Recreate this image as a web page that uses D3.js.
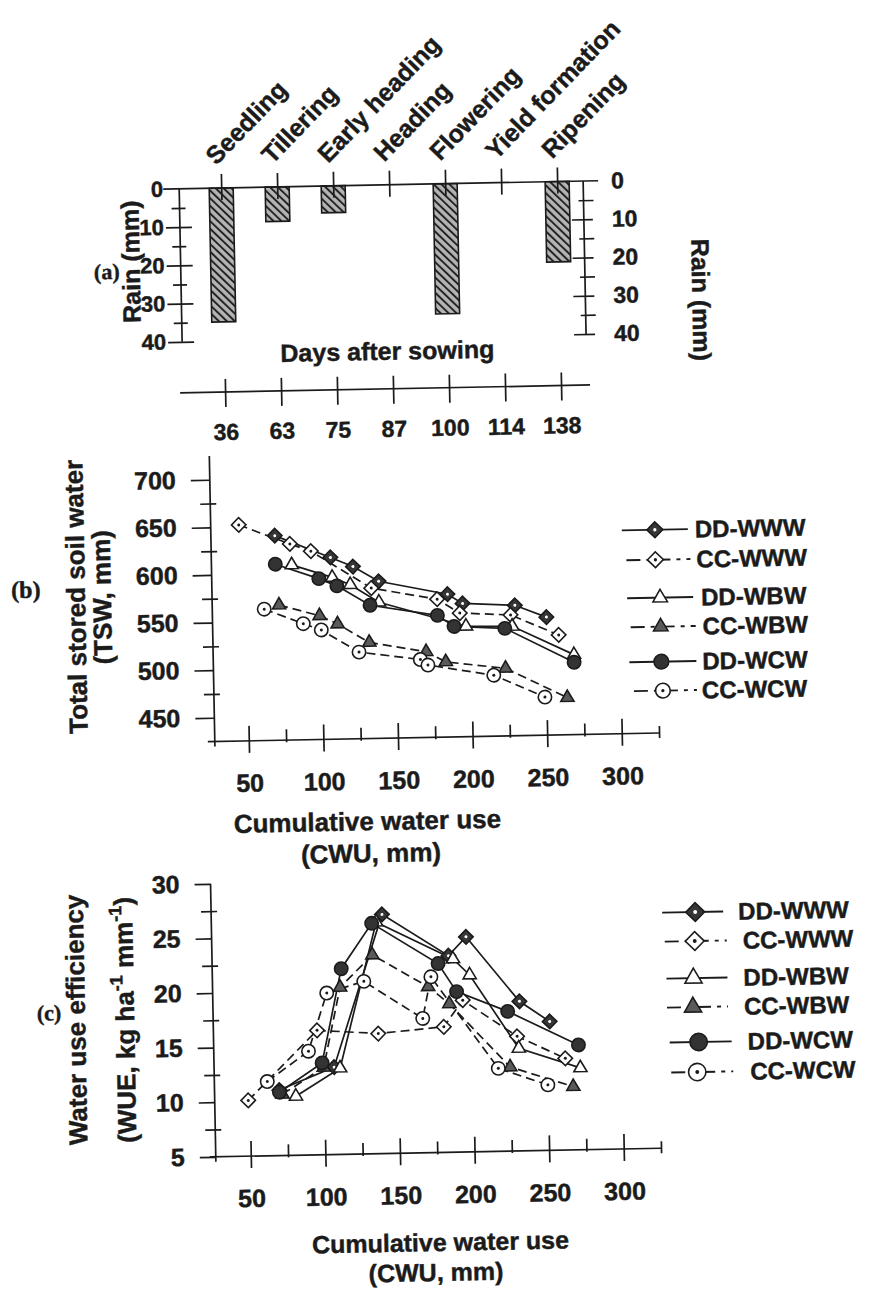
<!DOCTYPE html>
<meta charset="utf-8">
<style>
body { margin: 0; background: #fff; }
svg text { font-family: "Liberation Sans", Arial, sans-serif; font-weight: bold; fill: #1b1b1b; stroke: #1b1b1b; stroke-width: 0.45px; }
svg text.tag { font-family: "Liberation Serif", "Times New Roman", serif; }
</style>
<svg width="869" height="1289"></svg>
<script src="https://cdn.jsdelivr.net/npm/d3@7"></script>
<script>
// (a) rain by growth stage
var stages = ["Seedling", "Tillering", "Early heading", "Heading", "Flowering", "Yield formation", "Ripening"];
var days = [36, 63, 75, 87, 100, 114, 138];
var rain = [35, 9, 7, 0, 34, 0, 21];

var names = ["DD-WWW", "CC-WWW", "DD-WBW", "CC-WBW", "DD-WCW", "CC-WCW"];

// (b) total stored soil water vs cumulative water use, [CWU, TSW]
var tswDDWWW = [[70, 640], [107, 616], [122, 606], [139, 590], [185, 575], [195, 565], [230, 562], [251, 549]];
var tswCCWWW = [[46, 652], [80, 631], [94, 623], [134, 583], [178, 570], [193, 555], [227, 552], [259, 530]];
var tswDDWBW = [[81, 609], [108, 595], [120, 587], [139, 568], [197, 541], [228, 540], [269, 509]];
var tswCCWBW = [[72, 567], [99, 555], [111, 546], [132, 526], [170, 515], [183, 504], [223, 496], [264, 464]];
var tswDDWCW = [[70, 610], [99, 594], [111, 586], [133, 565], [178, 553], [189, 541], [223, 538], [269, 501]];
var tswCCWCW = [[62, 563], [88, 547], [100, 540], [125, 516], [166, 507], [171, 501], [215, 489], [249, 465]];

// (c) water use efficiency vs cumulative water use, [CWU, WUE]
var wueDDWWW = [[70, 11.0], [107, 13.0], [141, 26.9], [185, 23.0], [197, 24.7], [232, 18.7], [252, 16.8]];
var wueCCWWW = [[49, 10.1], [96, 16.4], [137, 16.0], [181, 16.5], [194, 18.9], [230, 15.5], [262, 13.4]];
var wueDDWBW = [[81, 10.4], [111, 12.9], [137, 26.2], [188, 22.7], [199, 21.2], [231, 14.4], [272, 12.5]];
var wueCCWBW = [[72, 10.6], [100, 13.0], [112, 20.3], [134, 23.2], [171, 20.2], [185, 18.6], [225, 12.7], [267, 10.8]];
var wueDDWCW = [[70, 10.8], [99, 13.4], [113, 22.0], [134, 26.1], [178, 22.3], [190, 19.7], [224, 17.8], [271, 14.6]];
var wueCCWCW = [[62, 11.8], [90, 14.5], [103, 19.8], [128, 20.8], [167, 17.3], [173, 21.1], [217, 12.6], [250, 11.0]];

var ink = "#1b1b1b";
var svg = d3.select("svg");

var defs = svg.append("defs");
var pat = defs.append("pattern")
    .attr("id", "hatch")
    .attr("patternUnits", "userSpaceOnUse")
    .attr("width", 5.5).attr("height", 5.5)
    .attr("patternTransform", "rotate(-45)");
pat.append("rect").attr("width", 5.5).attr("height", 5.5).attr("fill", "#b4b4b4");
pat.append("line").attr("x1", 1).attr("x2", 1).attr("y1", 0).attr("y2", 5.5)
    .attr("stroke", "#1e1e1e").attr("stroke-width", 1.9);

// the scanned figure sits slightly tilted
var root = svg.append("g").attr("transform", "rotate(-1.1,434,645)");

function hline(g, x1, x2, y) {
  g.append("line").attr("x1", x1).attr("x2", x2).attr("y1", y).attr("y2", y)
      .attr("stroke", ink).attr("stroke-width", 1.7);
}
function vline(g, x, y1, y2) {
  g.append("line").attr("x1", x).attr("x2", x).attr("y1", y1).attr("y2", y2)
      .attr("stroke", ink).attr("stroke-width", 1.7);
}
function styleAxis(g, size) {
  g.attr("font-size", size).attr("color", ink).attr("font-family", null);
  g.selectAll("line").attr("stroke-width", 1.7);
  g.select(".domain").remove();
}
function rotText(g, x, y, angle, str, size) {
  return g.append("text")
      .attr("transform", "translate(" + x + "," + y + ") rotate(" + angle + ")")
      .attr("text-anchor", "middle")
      .attr("font-size", size)
      .text(str);
}

// ---------- (a) ----------
var pa = root.append("g");
var xStage = d3.scalePoint().domain(stages).range([230, 566]);
var xDay = d3.scalePoint().domain(days).range([230, 566]);
var yRain = d3.scaleLinear().domain([0, 40]).range([184, 337]);

pa.selectAll("rect.bar")
    .data(stages.map(function(s, i) { return {stage: s, v: rain[i]}; }).filter(function(d) { return d.v > 0; }))
  .enter().append("rect")
    .attr("class", "bar")
    .attr("x", function(d) { return xStage(d.stage) - 12; })
    .attr("width", 24)
    .attr("y", yRain(0))
    .attr("height", function(d) { return yRain(d.v) - yRain(0); })
    .attr("fill", "url(#hatch)")
    .attr("stroke", ink)
    .attr("stroke-width", 1.6);

hline(pa, 172, 607, yRain(0));

var axTop = pa.append("g").attr("transform", "translate(0," + yRain(0) + ")")
    .call(d3.axisTop(xStage).tickSize(0));
styleAxis(axTop, 25);
axTop.selectAll(".tick line").attr("y1", 12).attr("y2", -14);
axTop.selectAll(".tick text")
    .attr("x", 0).attr("y", 0).attr("dy", 0)
    .attr("text-anchor", "start")
    .attr("transform", "translate(-5,-22) rotate(-45)");

var axL = pa.append("g").attr("transform", "translate(188,0)")
    .call(d3.axisLeft(yRain).tickValues(d3.range(0, 41, 5))
      .tickFormat(function(d) { return d % 10 ? "" : d; }));
styleAxis(axL, 22);
axL.selectAll(".tick line")
    .attr("x1", function(d) { return d === 0 ? 0 : (d % 10 ? 6 : 12); })
    .attr("x2", function(d) { return d === 0 ? 0 : (d % 10 ? -8 : -14); });
axL.selectAll(".tick text").attr("x", -16);
vline(pa, 188, yRain(0), yRain(40));

var axR = pa.append("g").attr("transform", "translate(592,0)")
    .call(d3.axisRight(yRain).tickValues(d3.range(0, 41, 5))
      .tickFormat(function(d) { return d % 10 ? "" : d; }));
styleAxis(axR, 23);
axR.selectAll(".tick line")
    .attr("x1", function(d) { return d === 0 ? 0 : (d % 10 ? -5 : -12); })
    .attr("x2", function(d) { return d === 0 ? 0 : (d % 10 ? 10 : 9); });
axR.selectAll(".tick text").attr("x", 28);
vline(pa, 592, yRain(0), yRain(40));

rotText(pa, 147, 256, -90, "Rain (mm)", 25);
rotText(pa, 699, 305, 90, "Rain (mm)", 25);
pa.append("text").attr("class", "tag").attr("x", 114).attr("y", 273)
    .attr("text-anchor", "middle").attr("font-size", 22).text("(a)");

pa.append("text").attr("x", 393).attr("y", 359).attr("text-anchor", "middle")
    .attr("font-size", 25).text("Days after sowing");

var axD = pa.append("g").attr("transform", "translate(0,388)")
    .call(d3.axisBottom(xDay).tickSize(0));
styleAxis(axD, 23);
axD.selectAll(".tick line").attr("y1", -13).attr("y2", 15);
axD.selectAll(".tick text").attr("y", 48).attr("dy", 0);
hline(pa, 185, 595, 388);

// ---------- markers ----------
function addMarker(g, name, x, y, k) {
  var kind = name.slice(3), dd = name.slice(0, 2) === "DD";
  var m = g.append("g").attr("transform", "translate(" + x + "," + y + ")");
  var p = m.append("path").attr("stroke", ink).attr("stroke-width", 1.6);
  if (kind === "WWW") {
    p.attr("d", d3.symbol(d3.symbolSquare, 105 * k * k)()).attr("transform", "rotate(45)")
        .attr("fill", dd ? "#363636" : "#fff");
    m.append("circle").attr("r", 1.5 * k).attr("fill", dd ? "#fff" : ink);
  } else if (kind === "WBW") {
    p.attr("d", d3.symbol(d3.symbolTriangle, 75 * k * k)())
        .attr("fill", dd ? "#fff" : "#5a5a5a");
  } else {
    p.attr("d", d3.symbol(d3.symbolCircle, 140 * k * k)())
        .attr("fill", dd ? "#333" : "#fff");
    if (!dd) m.append("circle").attr("r", 1.5 * k).attr("fill", ink);
  }
}

function drawSeries(g, data, x, y) {
  var line = d3.line().x(function(d) { return x(d[0]); }).y(function(d) { return y(d[1]); });
  data.forEach(function(pts, i) {
    g.append("path").datum(pts)
        .attr("d", line)
        .attr("fill", "none")
        .attr("stroke", ink)
        .attr("stroke-width", 1.7)
        .attr("stroke-dasharray", names[i].slice(0, 2) === "CC" ? "9,5" : null);
  });
  data.forEach(function(pts, i) {
    pts.forEach(function(d) { addMarker(g, names[i], x(d[0]), y(d[1]), 1); });
  });
}

function drawLegend(g, rows, textX, markX, lineX, k) {
  names.forEach(function(n, i) {
    var cc = n.slice(0, 2) === "CC";
    g.append("line")
        .attr("x1", lineX[i][0]).attr("x2", lineX[i][1])
        .attr("y1", rows[i]).attr("y2", rows[i])
        .attr("stroke", ink).attr("stroke-width", 1.9)
        .attr("stroke-dasharray", cc ? "14,6,4,6" : null);
    addMarker(g, n, markX[i], rows[i], k);
    g.append("text").attr("x", textX[i]).attr("y", rows[i]).attr("dy", "0.36em")
        .attr("font-size", 24).text(n);
  });
}

function cwuAxis(g, x, y0) {
  var ax = g.append("g").attr("transform", "translate(0," + y0 + ")")
      .call(d3.axisBottom(x).tickValues(d3.range(50, 326, 25))
        .tickFormat(function(d) { return (d % 50 || d > 300) ? "" : d; }));
  styleAxis(ax, 25);
  ax.selectAll(".tick line")
      .attr("y1", function(d) { return d === 325 ? -7 : (d % 50 ? -11 : -15); })
      .attr("y2", function(d) { return d === 325 ? 5 : (d % 50 ? 2 : 12); });
  ax.selectAll(".tick text").attr("y", 51).attr("dy", 0);
}

// ---------- (b) ----------
var pb = root.append("g");
var xB = d3.scaleLinear().domain([50, 300]).range([247, 620]);
var yB = d3.scaleLinear().domain([450, 700]).range([713.5, 475.5]);

var axYB = pb.append("g").attr("transform", "translate(213,0)")
    .call(d3.axisLeft(yB).tickValues(d3.range(450, 701, 25))
      .tickFormat(function(d) { return d % 50 ? "" : d; }));
styleAxis(axYB, 25);
axYB.selectAll(".tick line")
    .attr("x1", function(d) { return d % 50 ? 6 : 0; })
    .attr("x2", function(d) { return d % 50 ? -10 : -19; });
axYB.selectAll(".tick text").attr("x", -34);
vline(pb, 213, yB(725), yB(425) + 5);
hline(pb, 206, xB(325), yB(425));
cwuAxis(pb, xB, yB(425));

drawSeries(pb, [tswDDWWW, tswCCWWW, tswDDWBW, tswCCWBW, tswDDWCW, tswCCWCW], xB, yB);

rotText(pb, 86, 590, -90, "Total stored soil water", 26);
rotText(pb, 112, 591, -90, "(TSW, mm)", 26);
pb.append("text").attr("class", "tag").attr("x", 27).attr("y", 590)
    .attr("text-anchor", "middle").attr("font-size", 24).text("(b)");
pb.append("text").attr("x", 364).attr("y", 829).attr("text-anchor", "middle")
    .attr("font-size", 26).text("Cumulative water use");
pb.append("text").attr("x", 367).attr("y", 861).attr("text-anchor", "middle")
    .attr("font-size", 26).text("(CWU, mm)");

drawLegend(pb, [534, 564, 602, 631, 666, 695],
    [697, 698, 702, 703, 702, 701],
    [657, 657, 661, 661, 661, 662],
    [[624, 690], [628, 692], [628, 694], [631, 696], [629, 696], [633, 696]], 1.1);

// ---------- (c) ----------
var pc = root.append("g");
var xC = d3.scaleLinear().domain([50, 300]).range([241, 614]);
var yC = d3.scaleLinear().domain([5, 30]).range([1152.5, 879.5]);

var axYC = pc.append("g").attr("transform", "translate(206,0)")
    .call(d3.axisLeft(yC).tickValues(d3.range(5, 30.1, 2.5))
      .tickFormat(function(d) { return d % 5 ? "" : d; }));
styleAxis(axYC, 25);
axYC.selectAll(".tick line")
    .attr("x1", function(d) { return d % 5 ? 6 : 0; })
    .attr("x2", function(d) { return d % 5 ? -10 : -16; });
axYC.selectAll(".tick text").attr("x", -31);
vline(pc, 206, yC(30), yC(5) + 5);
hline(pc, 200, xC(325), yC(5));
cwuAxis(pc, xC, yC(5));

drawSeries(pc, [wueDDWWW, wueCCWWW, wueDDWBW, wueCCWBW, wueDDWCW, wueCCWCW], xC, yC);

rotText(pc, 78, 1013, -90, "Water use efficiency", 26);
var t2 = rotText(pc, 127, 1014, -90, "", 26);
t2.append("tspan").text("(WUE, kg ha");
t2.append("tspan").attr("dy", -11).attr("font-size", 18).text("-1");
t2.append("tspan").attr("dy", 11).text(" mm");
t2.append("tspan").attr("dy", -11).attr("font-size", 18).text("-1");
t2.append("tspan").attr("dy", 11).text(")");
pc.append("text").attr("class", "tag").attr("x", 42).attr("y", 1013)
    .attr("text-anchor", "middle").attr("font-size", 22).text("(c)");
pc.append("text").attr("x", 429).attr("y", 1251).attr("text-anchor", "middle")
    .attr("font-size", 25).text("Cumulative water use");
pc.append("text").attr("x", 424).attr("y", 1281).attr("text-anchor", "middle")
    .attr("font-size", 25).text("(CWU, mm)");

drawLegend(pc, [917, 946, 983, 1012, 1047, 1077],
    [733, 737, 737, 737, 740, 742],
    [690, 689, 687, 686, 691, 689],
    [[657, 718], [659, 721], [660, 721], [660, 721], [662, 724], [663, 725]], 1.3);
</script>
